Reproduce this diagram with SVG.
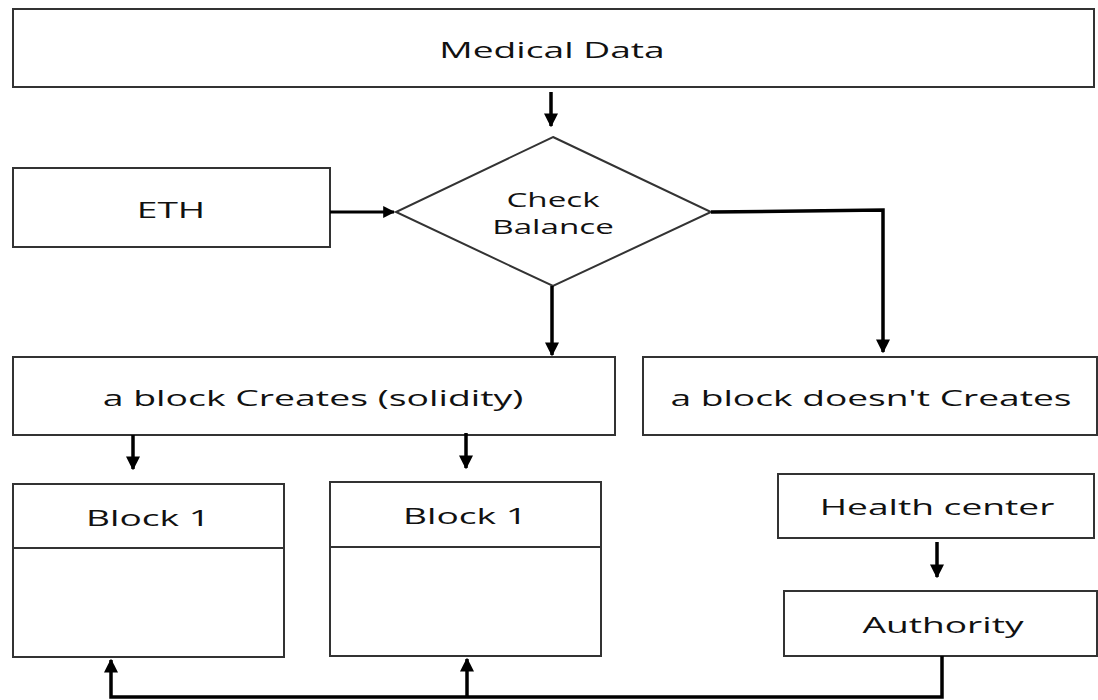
<svg xmlns="http://www.w3.org/2000/svg" width="1098" height="700" viewBox="0 0 1098 700">
<style>
.box{fill:#fff;stroke:#333;stroke-width:2}
.t{font-family:"Open Sans","Liberation Sans",sans-serif;font-size:22px;fill:#111;text-anchor:middle;dominant-baseline:central}
.s{font-size:20px}
.c{fill:none;stroke:#000;stroke-width:3.5}
</style>
<defs>
<marker id="ah" viewBox="0 0 10 10" refX="9" refY="5" markerWidth="4" markerHeight="4" orient="auto" markerUnits="strokeWidth">
<path d="M0,0 L10,5 L0,10 z" fill="#000"/>
</marker>
</defs>
<rect width="1098" height="700" fill="#fff"/>
<g id="medical-data"><rect class="box" x="13" y="9" width="1081" height="78"/><text class="t" transform="translate(552,49) scale(1.69,1)">Medical Data</text></g>
<g id="eth"><rect class="box" x="13" y="168" width="317" height="79"/><text class="t" transform="translate(171,209) scale(1.69,1)">ETH</text></g>
<g id="check-balance"><polygon class="box" points="553,137 711,212 553,286 396,212"/><text class="t s" transform="translate(553,199) scale(1.66,1)">Check</text><text class="t s" transform="translate(553,226) scale(1.66,1)">Balance</text></g>
<g id="block-creates"><rect class="box" x="13" y="357" width="602" height="78"/><text class="t" transform="translate(313,397) scale(1.7,1)">a block Creates (solidity)</text></g>
<g id="block-doesnt"><rect class="box" x="643" y="357" width="454" height="78"/><text class="t" transform="translate(871,397) scale(1.69,1)">a block doesn't Creates</text></g>
<g id="block1-left"><rect class="box" x="13" y="484" width="271" height="173"/><line class="box" x1="13" y1="548" x2="284" y2="548"/><text class="t" transform="translate(148,517) scale(1.69,1)">Block 1</text></g>
<g id="block1-right"><rect class="box" x="330" y="482" width="271" height="174"/><line class="box" x1="330" y1="547" x2="601" y2="547"/><text class="t" transform="translate(465,515) scale(1.69,1)">Block 1</text></g>
<g id="health-center"><rect class="box" x="778" y="474" width="316" height="64"/><text class="t" transform="translate(937,506) scale(1.69,1)">Health center</text></g>
<g id="authority"><rect class="box" x="784" y="591" width="313" height="65"/><text class="t" transform="translate(943,624) scale(1.69,1)">Authority</text></g>
<g id="connectors">
<line class="c" x1="551" y1="92" x2="551" y2="126" marker-end="url(#ah)"/>
<line class="c" x1="330" y1="212" x2="394" y2="212" marker-end="url(#ah)" style="stroke-width:3"/>
<line class="c" x1="552" y1="286" x2="552" y2="355" marker-end="url(#ah)"/>
<polyline class="c" points="711,212 883,210 883,352" marker-end="url(#ah)"/>
<line class="c" x1="133" y1="435" x2="133" y2="469" marker-end="url(#ah)"/>
<line class="c" x1="466" y1="433" x2="466" y2="468" marker-end="url(#ah)"/>
<line class="c" x1="937" y1="542" x2="937" y2="577" marker-end="url(#ah)"/>
<polyline class="c" points="942,656 942,697 111,697 111,660" marker-end="url(#ah)"/>
<line class="c" x1="467" y1="697" x2="467" y2="659" marker-end="url(#ah)"/>
</g>
</svg>
